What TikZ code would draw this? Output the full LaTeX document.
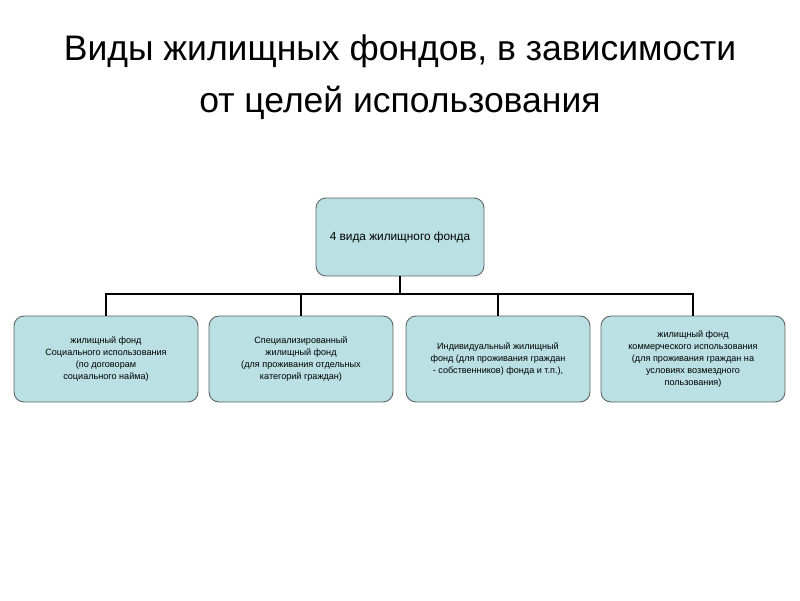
\documentclass[tikz,border=0pt]{standalone}
\usepackage{fontspec}
\setmainfont{Liberation Sans}
\usepackage{tikz}
\definecolor{box_fill}{RGB}{186,224,227}
\definecolor{box_edge}{RGB}{95,100,100}

\begin{document}
\begin{tikzpicture}[x=1pt,y=-1pt]
    \tikzstyle{title}=[text=black, font=\fontsize{35.5}{40}\selectfont, inner sep=0pt, anchor=base]
    \tikzstyle{box}=[draw=box_edge, fill=box_fill, rounded corners=10pt, line width=0.9pt, align=center, text=black]
    \tikzstyle{top}=[style=box, minimum width=168pt, minimum height=78pt, font=\fontsize{11.8}{14}\selectfont]
    \tikzstyle{kind}=[style=box, minimum width=184pt, minimum height=86pt, font=\fontsize{9.1}{12}\selectfont]
    \useasboundingbox (0,0) rectangle (800,600);

    \node[title] (t1) at (400,60)  {Виды жилищных фондов, в зависимости};
    \node[title] (t2) at (400,112) {от целей использования};

    \node[top] (root) at (400,237) {4 вида жилищного фонда};
    \coordinate (bus) at (400,294);

    \node[kind] (social) at (106,359) {жилищный фонд\\Социального использования\\(по договорам\\социального найма)};
    \node[kind] (special) at (301,359) {Специализированный\\жилищный фонд\\(для проживания отдельных\\категорий граждан)};
    \node[kind] (private) at (498,359) {Индивидуальный жилищный\\фонд (для проживания граждан\\- собственников) фонда и т.п.),};
    \node[kind] (commerce) at (693,359) {жилищный фонд\\коммерческого использования\\(для проживания граждан на\\условиях возмездного\\пользования)};

    \path[draw, line width=2pt]
     (root) -- (bus)
     (bus) -| (social)
     (bus) -| (special)
     (bus) -| (private)
     (bus) -| (commerce)
     ;
\end{tikzpicture}
\end{document}
